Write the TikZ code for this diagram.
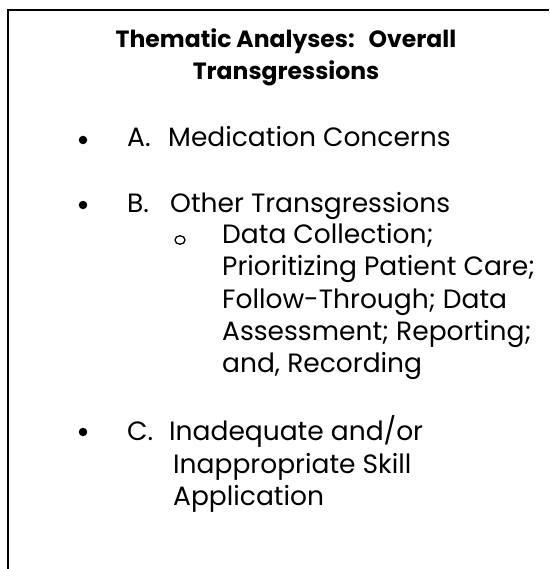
\documentclass[tikz,border=0pt]{standalone}
\usepackage{fontspec}
\setmainfont{Poppins}
\usepackage{tikz}
\usetikzlibrary{positioning,calc}

\tikzset{
  head/.style={anchor=base, inner sep=0pt, font=\fontsize{23.5}{28}\selectfont\bfseries},
  line/.style={anchor=base west, inner sep=0pt, font=\fontsize{26.5}{32}\selectfont},
  dot/.style={circle, fill=black, inner sep=0pt, minimum size=8.5pt},
  ring/.style={ellipse, draw=black, line width=1.3pt, inner sep=0pt, minimum width=10pt, minimum height=8.5pt}
}
\usetikzlibrary{shapes.geometric}

\begin{document}
\begin{tikzpicture}[x=1pt,y=1pt]
				\useasboundingbox (0,0) rectangle (549,-569);
				\coordinate (tl) at (8,-10);
				\coordinate (tr) at (549,-10);
				\coordinate (bl) at (8,-569);
				\draw[line width=2pt] (tr) -- (tl) -- (bl);

				\node[head] (t1) at (286,-48) {Thematic Analyses:\hspace{14pt}Overall};
				\node[head] (t2) at (286,-80) {Transgressions};

				\node[dot] (bA) at (83,-140) {};
				\node[line] (lA) at (127,-147) {A.};
				\node[line] (A1) at (168,-147) {Medication Concerns};

				\node[dot] (bB) at (83,-205) {};
				\node[line] (lB) at (127,-212) {B.};
				\node[line] (B1) at (170,-212) {Other Transgressions};
				\node[ring] (oB) at (180,-240) {};
				\node[line] (s1) at (222,-243) {Data Collection;};
				\node[line] (s2) at (222,-275) {Prioritizing Patient Care;};
				\node[line] (s3) at (222,-308) {Follow-Through; Data};
				\node[line] (s4) at (222,-340) {Assessment; Reporting;};
				\node[line] (s5) at (222,-372) {and, Recording};

				\node[dot] (bC) at (83,-432) {};
				\node[line] (lC) at (127,-440) {C.};
				\node[line] (C1) at (169,-440) {Inadequate and/or};
				\node[line] (C2) at (173,-473) {Inappropriate Skill};
				\node[line] (C3) at (173,-505) {Application};
			\end{tikzpicture}
\end{document}
